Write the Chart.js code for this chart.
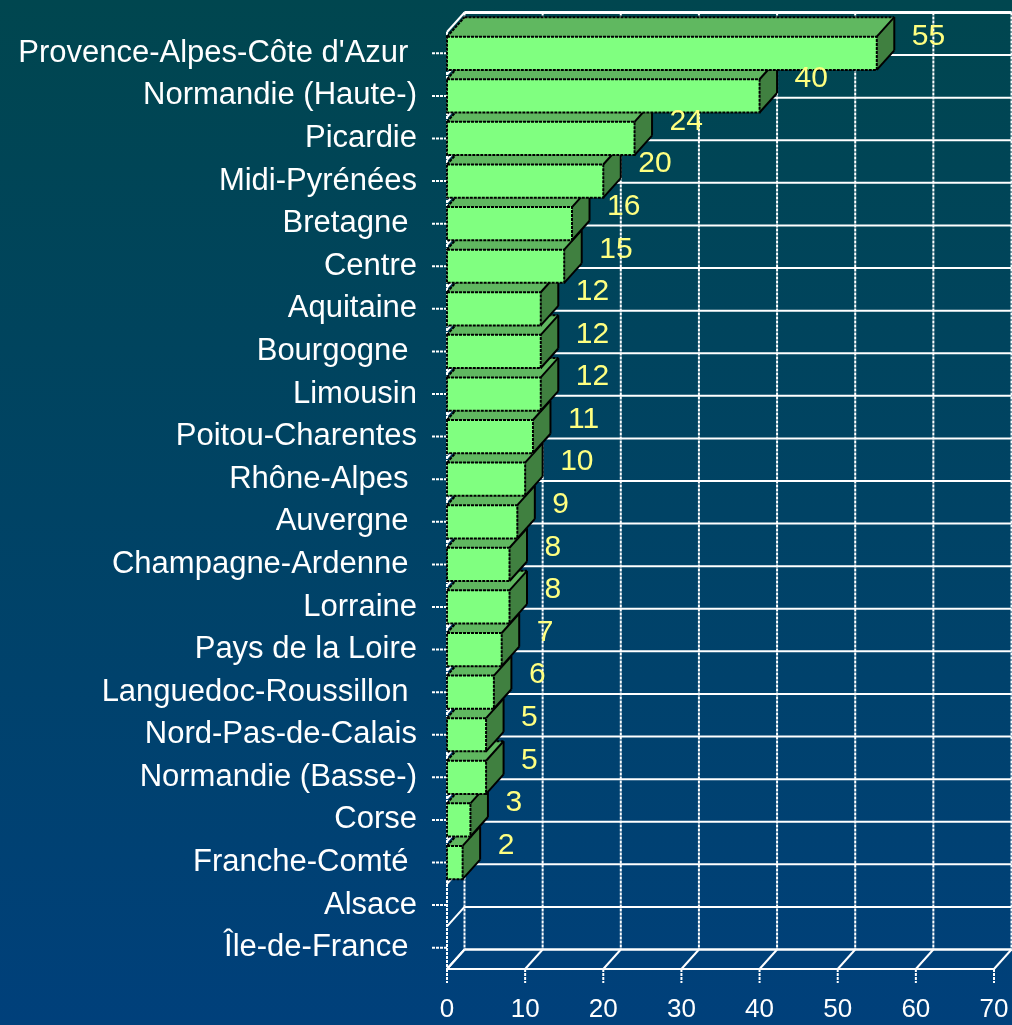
<!DOCTYPE html>
<html lang="fr">
<head>
  <meta charset="UTF-8">
  <title>Régions</title>
  <script src="https://cdn.jsdelivr.net/npm/chart.js"></script>
  <style>
    html, body { margin: 0; padding: 0; }
    .contentGrafico {
      width: 1012px;
      height: 1025px;
      background: linear-gradient(to bottom, #00464f, #00407b);
    }
  </style>
</head>

<body>
  <div class="contentGrafico">
    <canvas id="barChart"></canvas>
  </div>

<script>
  // données (de haut en bas)
  const regions = [
    "Provence-Alpes-Côte d'Azur ", "Normandie (Haute-)", "Picardie", "Midi-Pyrénées",
    "Bretagne ", "Centre", "Aquitaine", "Bourgogne ", "Limousin", "Poitou-Charentes",
    "Rhône-Alpes ", "Auvergne ", "Champagne-Ardenne ", "Lorraine", "Pays de la Loire",
    "Languedoc-Roussillon ", "Nord-Pas-de-Calais", "Normandie (Basse-)", "Corse",
    "Franche-Comté ", "Alsace", "Île-de-France "
  ];
  const valeurs = [55, 40, 24, 20, 16, 15, 12, 12, 12, 11, 10, 9, 8, 8, 7, 6, 5, 5, 3, 2, 0, 0];
  const ticksX = [0, 10, 20, 30, 40, 50, 60, 70];

  // profondeur de l'effet 3D
  const DX = 17.5, DY = 19.5;
  const police = "'Liberation Sans', Arial, sans-serif";

  function ligne(ctx, x1, y1, x2, y2) {
    ctx.beginPath();
    ctx.moveTo(x1, y1);
    ctx.lineTo(x2, y2);
    ctx.stroke();
  }

  function poly(ctx, pts, couleur) {
    ctx.beginPath();
    ctx.moveTo(pts[0][0], pts[0][1]);
    for (let i = 1; i < pts.length; i++) ctx.lineTo(pts[i][0], pts[i][1]);
    ctx.closePath();
    ctx.fillStyle = couleur;
    ctx.fill();
  }

  function sansMarges(scale) {
    scale.paddingLeft = 0;
    scale.paddingRight = 0;
    scale.paddingTop = 0;
    scale.paddingBottom = 0;
  }

  const decor3d = {
    id: 'decor3d',
    beforeDatasetsDraw(chart) {
      const ctx = chart.ctx, a = chart.chartArea;
      const sx = chart.scales.x, sy = chart.scales.y;
      const bande = (a.bottom - a.top) / regions.length;
      ctx.save();
      ctx.strokeStyle = '#ffffff';
      ctx.lineWidth = 2;

      // murs : lignes horizontales (fond) + diagonales du mur gauche
      for (let i = 0; i <= regions.length; i++) {
        const y = sy.getPixelForValue(0) - bande / 2 + i * bande;
        ctx.setLineDash([]);
        ligne(ctx, a.left + DX, y - DY, a.right + DX, y - DY);
        ligne(ctx, a.left, y, a.left + DX, y - DY);
      }

      // lignes verticales du fond + sol
      ctx.setLineDash([3, 1]);
      ticksX.forEach(v => {
        const x = sx.getPixelForValue(v);
        ligne(ctx, x + DX, a.top - DY, x + DX, a.bottom - DY);
        ligne(ctx, x, a.bottom, x, a.bottom + 14);
      });
      ligne(ctx, a.left, a.top, a.left, a.bottom);
      ctx.setLineDash([]);
      ticksX.forEach(v => {
        const x = sx.getPixelForValue(v);
        ligne(ctx, x, a.bottom, x + DX, a.bottom - DY);
      });
      ligne(ctx, a.left, a.bottom, a.right, a.bottom);
      ligne(ctx, a.left + DX, a.bottom - DY, a.right + DX, a.bottom - DY);
      ctx.lineWidth = 3;
      ligne(ctx, a.left + DX, a.top - DY, a.right + DX, a.top - DY);
      ctx.lineWidth = 2;

      // petits traits de graduation à gauche
      ctx.setLineDash([3, 1]);
      regions.forEach((r, i) => {
        const y = sy.getPixelForValue(i);
        ligne(ctx, a.left - 15, y, a.left, y);
      });
      ctx.restore();
    },
    beforeDatasetDraw(chart, args) {
      const ctx = chart.ctx;
      const barres = args.meta.data;
      ctx.save();
      // du bas vers le haut pour que les barres du haut recouvrent
      for (let i = barres.length - 1; i >= 0; i--) {
        if (!valeurs[i]) continue;
        const b = barres[i];
        const x0 = b.base, x1 = b.x;
        const yt = b.y - b.height / 2, yb = b.y + b.height / 2;

        ctx.fillStyle = '#80ff80';
        ctx.fillRect(x0, yt, x1 - x0, yb - yt);
        poly(ctx, [[x0, yt], [x1, yt], [x1 + DX, yt - DY], [x0 + DX, yt - DY]], '#60b860');
        poly(ctx, [[x1, yt], [x1 + DX, yt - DY], [x1 + DX, yb - DY], [x1, yb]], '#408040');

        ctx.strokeStyle = '#000000';
        ctx.lineWidth = 2;
        ctx.setLineDash([3, 1]);
        ctx.strokeRect(x0, yt, x1 - x0, yb - yt);
        ligne(ctx, x0, yt, x0 + DX, yt - DY);
        ligne(ctx, x0 + DX, yt - DY, x1 + DX, yt - DY);
        ctx.setLineDash([]);
        ligne(ctx, x1, yt, x1 + DX, yt - DY);
        ligne(ctx, x1 + DX, yt - DY, x1 + DX, yb - DY);
        ligne(ctx, x1 + DX, yb - DY, x1, yb);
      }
      ctx.restore();
      return false;
    },
    afterDatasetsDraw(chart) {
      const ctx = chart.ctx;
      const barres = chart.getDatasetMeta(0).data;
      ctx.save();
      ctx.fillStyle = '#ffff80';
      ctx.font = '30px ' + police;
      ctx.textAlign = 'left';
      ctx.textBaseline = 'middle';
      barres.forEach((b, i) => {
        if (!valeurs[i]) return;
        ctx.fillText(String(valeurs[i]), b.x + 35, b.y - 17);
      });
      ctx.restore();
    }
  };

  const config = {
    type: 'bar',
    data: {
      labels: regions,
      datasets: [
        {
          label: 'Nombre',
          data: valeurs,
          backgroundColor: '#80ff80',
          categoryPercentage: 1,
          barPercentage: 0.78
        }
      ]
    },
    options: {
      indexAxis: 'y',
      responsive: true,
      maintainAspectRatio: false,
      animation: false,
      layout: { padding: { top: 32, right: 18, left: 0, bottom: 0 } },
      plugins: {
        legend: { display: false },
        tooltip: { enabled: false }
      },
      scales: {
        x: {
          min: 0,
          max: 70,
          afterFit(scale) { scale.height = 56; sansMarges(scale); },
          afterBuildTicks(scale) { scale.ticks = ticksX.map(v => ({ value: v })); },
          grid: { display: false, drawTicks: false },
          border: { display: false },
          ticks: {
            color: '#ffffff',
            padding: 25,
            font: { family: police, size: 26 }
          }
        },
        y: {
          afterFit(scale) { scale.width = 447; sansMarges(scale); },
          grid: { display: false, drawTicks: false },
          border: { display: false },
          ticks: {
            color: '#ffffff',
            padding: 30,
            autoSkip: false,
            font: { family: police, size: 31 }
          }
        }
      }
    },
    plugins: [decor3d]
  };

  new Chart(document.getElementById('barChart'), config);
</script>
</body>
</html>
